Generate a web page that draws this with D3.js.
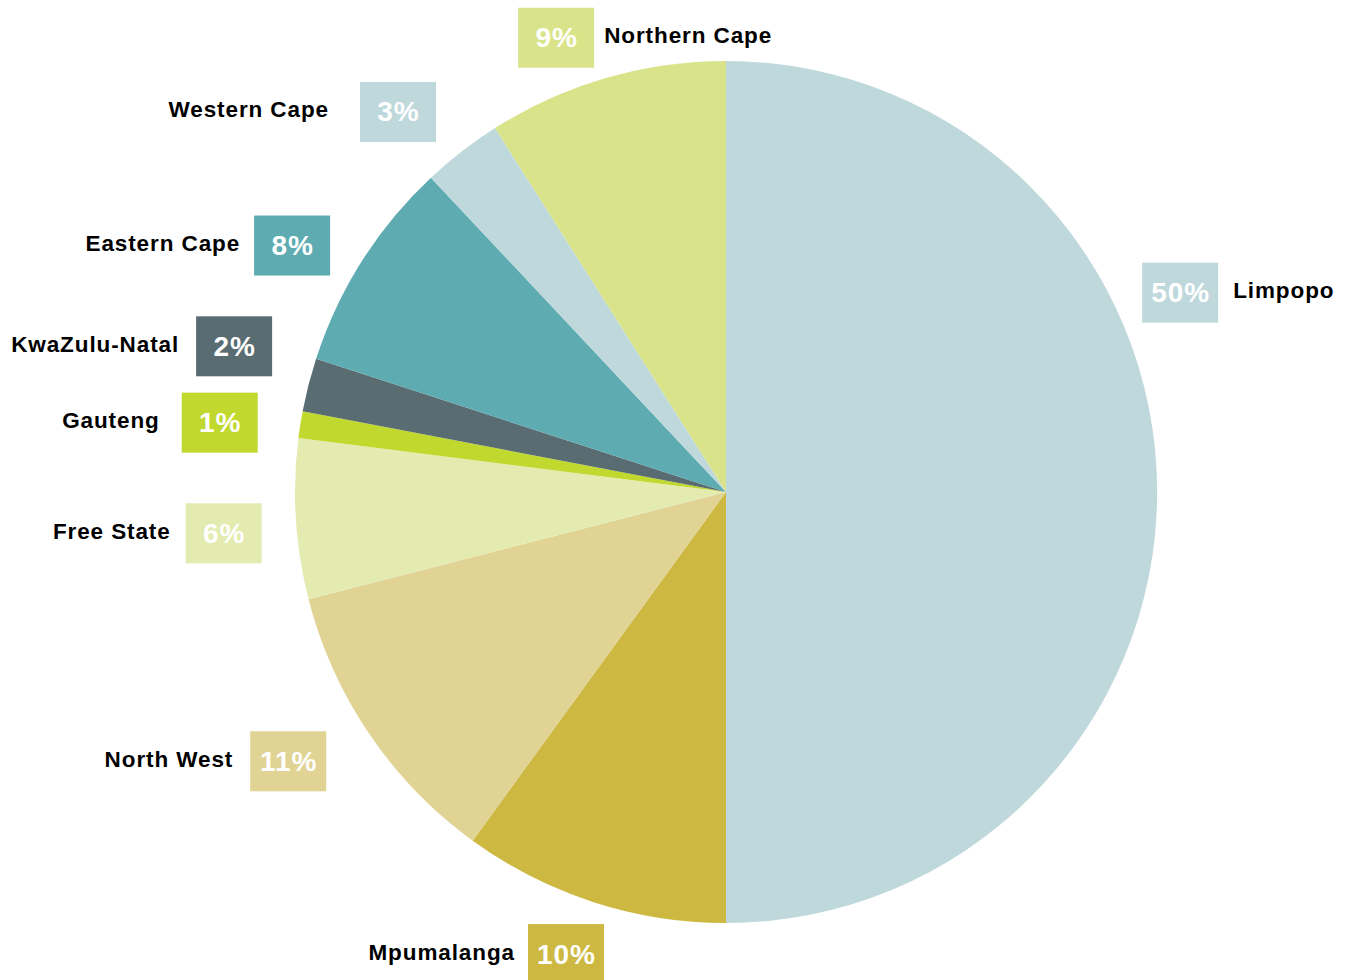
<!DOCTYPE html>
<html>
<head>
<meta charset="utf-8">
<script src="https://cdn.jsdelivr.net/npm/d3@7"></script>
<style>
  body { margin: 0; background: #fff; }
  text { font-family: "Liberation Sans", Arial, Helvetica, sans-serif; font-weight: bold; }
</style>
</head>
<body>
<svg id="drawing_region"></svg>
<script>
// data
const regions = ["Limpopo", "Mpumalanga", "North West", "Free State", "Gauteng",
                 "KwaZulu-Natal", "Eastern Cape", "Western Cape", "Northern Cape"];
const shares = [50, 10, 11, 6, 1, 2, 8, 3, 9];
const colors = ["#bfd8dc", "#cdb942", "#e1d394", "#e3ebb0", "#c1d82f",
                "#586c71", "#5eabb2", "#bed8dc", "#d9e48a"];

// label layout: angle (deg, clockwise from top), distance from centre, side and gap of the name
const labelLayout = [
    {angle: 66.3, r: 496, side: "right", gap: 15},
    {angle: 199.1, r: 489, side: "left", gap: 13},
    {angle: 238.4, r: 514, side: "left", gap: 17},
    {angle: 265.3, r: 504, side: "left", gap: 15},
    {angle: 277.8, r: 511, side: "left", gap: 22},
    {angle: 286.5, r: 513, side: "left", gap: 17},
    {angle: 299.6, r: 499, side: "left", gap: 14},
    {angle: 319.2, r: 502, side: "left", gap: 31},
    {angle: 339.5, r: 485, side: "right", gap: 10}
];

const data = regions.map((name, i) => ({name: name, value: shares[i], color: colors[i], layout: labelLayout[i]}));

const config = {
    width: 1352,
    height: 980,
    cx: 726,
    cy: 492,
    radius: 431,
    boxW: 76,
    boxH: 60
};

const svg = d3.select("#drawing_region")
    .attr("width", config.width)
    .attr("height", config.height);

const chart = svg.append("g")
    .attr("transform", `translate(${config.cx}, ${config.cy})`);

const pie = d3.pie()
    .value(d => d.value)
    .sort(null);

const arc = d3.arc()
    .innerRadius(0)
    .outerRadius(config.radius);

const arcs = pie(data);

chart.selectAll("path.slice")
    .data(arcs)
    .enter()
    .append("path")
    .attr("class", "slice")
    .attr("d", arc)
    .attr("fill", d => d.data.color);

const labels = chart.selectAll("g.label")
    .data(arcs)
    .enter()
    .append("g")
    .attr("class", "label")
    .attr("transform", d => {
        const a = d.data.layout.angle * Math.PI / 180;
        const x = d.data.layout.r * Math.sin(a);
        const y = -d.data.layout.r * Math.cos(a);
        return `translate(${x}, ${y})`;
    });

labels.append("rect")
    .attr("x", -config.boxW / 2)
    .attr("y", -config.boxH / 2)
    .attr("width", config.boxW)
    .attr("height", config.boxH)
    .attr("fill", d => d.data.color);

labels.append("text")
    .attr("x", 0.5)
    .attr("y", 0)
    .attr("text-anchor", "middle")
    .attr("dominant-baseline", "central")
    .attr("fill", "#fff")
    .attr("font-size", "28px")
    .attr("letter-spacing", "1px")
    .text(d => d.data.value + "%");

labels.append("text")
    .attr("x", d => d.data.layout.side === "right" ? config.boxW / 2 + d.data.layout.gap : -config.boxW / 2 - d.data.layout.gap)
    .attr("y", -2)
    .attr("text-anchor", d => d.data.layout.side === "right" ? "start" : "end")
    .attr("dominant-baseline", "central")
    .attr("fill", "#000")
    .attr("font-size", "22.5px")
    .attr("letter-spacing", "0.9px")
    .text(d => d.data.name);
</script>
</body>
</html>
